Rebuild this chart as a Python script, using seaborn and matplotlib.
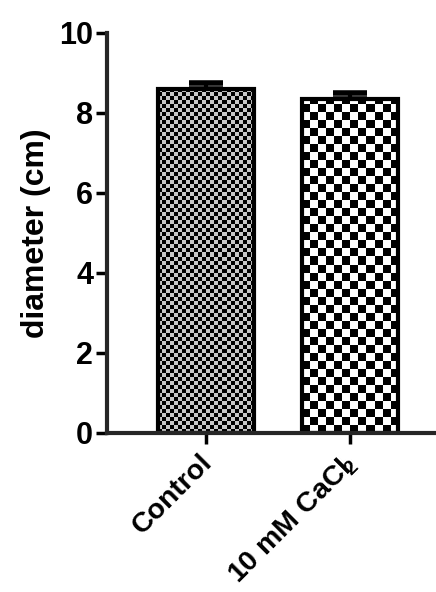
import numpy as np
import pandas as pd
import matplotlib
matplotlib.use("Agg")
import matplotlib.pyplot as plt
import seaborn as sns

categories = ["Control", r"10 mM CaCl$\!_2$"]
diameters = [8.6, 8.35]
sem = [0.15, 0.15]
y_ticks = [0, 2, 4, 6, 8, 10]

sns.set_style("ticks")
plt.rcParams["font.family"] = ["Liberation Sans", "DejaVu Sans"]
plt.rcParams["font.weight"] = "bold"
plt.rcParams["mathtext.fontset"] = "custom"
plt.rcParams["mathtext.bf"] = "Liberation Sans:bold"
plt.rcParams["mathtext.rm"] = "Liberation Sans:bold"
plt.rcParams["mathtext.default"] = "bf"
plt.rcParams["text.color"] = "black"
plt.rcParams["xtick.color"] = "black"
plt.rcParams["ytick.color"] = "black"
plt.rcParams["axes.labelcolor"] = "black"

fig = plt.figure(figsize=(4.36, 5.92), dpi=100)
ax = fig.add_axes([0.2454, 0.2686, 0.7546, 0.6757])

df = pd.DataFrame({"group": categories, "diameter": diameters})
sns.barplot(data=df, x="group", y="diameter", order=categories, ax=ax,
            errorbar=None, width=0.67, color="white", edgecolor="black",
            linewidth=3, saturation=1)

ax.set_xlim(-0.69, 1.6)
ax.set_ylim(0, 10)

# checkerboard textures clipped to each bar, cell size in screen pixels
fig.canvas.draw()
cells = [4, 8]
light = [0.78, 1.0]
for patch, cell, lt in zip(ax.patches, cells, light):
    x0, y0 = patch.get_x(), patch.get_y()
    w, h = patch.get_width(), patch.get_height()
    (px0, py0), (px1, py1) = ax.transData.transform([(x0, y0), (x0 + w, y0 + h)])
    nx = int(np.ceil((px1 - px0) / cell))
    ny = int(np.ceil((py1 - py0) / cell))
    board = (np.add.outer(np.arange(ny), np.arange(nx)) % 2) * lt
    x1 = x0 + nx * cell * w / (px1 - px0)
    y1 = y0 + ny * cell * h / (py1 - py0)
    im = ax.imshow(board, cmap="gray", vmin=0, vmax=1, interpolation="nearest",
                   extent=(x0, x1, y0, y1), origin="lower", aspect="auto", zorder=1.5)
    im.set_clip_path(patch)
    patch.set_facecolor("none")
    patch.set_zorder(2)

ax.set_xlim(-0.69, 1.6)
ax.set_ylim(0, 10)

centers = [p.get_x() + p.get_width() / 2 for p in ax.patches]
ax.errorbar(centers, diameters, yerr=[np.zeros(len(sem)), sem], fmt="none",
            ecolor="black", elinewidth=3, capsize=12, capthick=4, zorder=1)

ax.set_yticks(y_ticks)
ax.set_yticklabels([str(t) for t in y_ticks], fontsize=22, fontweight="bold")

# rotated category labels placed under each tick
ax.set_xticks(range(len(categories)))
ax.set_xticklabels([])
for i, name in enumerate(categories):
    ax.annotate(name, xy=(i, 0), xycoords=("data", "axes fraction"),
                xytext=(-7, -16), textcoords="offset pixels",
                rotation=45, rotation_mode="anchor", ha="right", va="top",
                fontsize=20.5, fontweight="bold", annotation_clip=False)
ax.set_xlabel("")
ax.set_ylabel("diameter (cm)", fontsize=23, fontweight="bold", labelpad=6)

for side in ["top", "right"]:
    ax.spines[side].set_visible(False)
for side in ["left", "bottom"]:
    ax.spines[side].set_linewidth(3)
ax.tick_params(axis="both", width=2.5, length=8, color="black", pad=2)

fig.savefig("out.png", dpi=100)
